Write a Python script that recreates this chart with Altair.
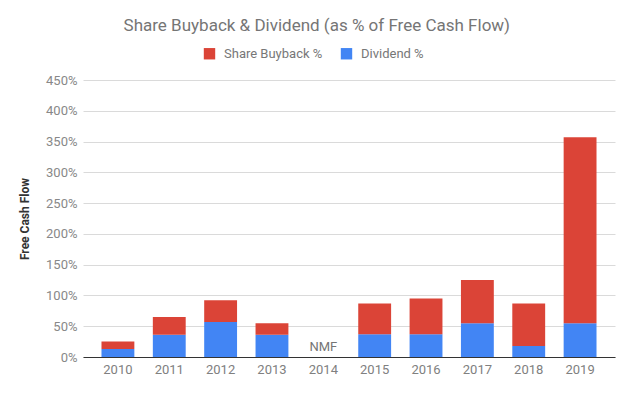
import altair as alt
import pandas as pd

years = ["2010", "2011", "2012", "2013", "2014", "2015", "2016", "2017", "2018", "2019"]
dividend_pct = [13, 36, 57, 36, None, 37, 37, 55, 18, 55]
buyback_pct = [12, 29, 35, 19, None, 50, 58, 70, 69, 302]
notes = ["", "", "", "", "NMF", "", "", "", "", ""]

series_names = ["Share Buyback %", "Dividend %"]
series_colors = ["#DB4437", "#4285F4"]
y_ticks = [0, 50, 100, 150, 200, 250, 300, 350, 400, 450]

rows = []
for y, d, b in zip(years, dividend_pct, buyback_pct):
    rows.append({"year": y, "series": "Dividend %", "value": d, "order": 0})
    rows.append({"year": y, "series": "Share Buyback %", "value": b, "order": 1})
df = pd.DataFrame(rows)
notes_df = pd.DataFrame({"year": years, "note": notes, "zero": [0] * len(years)})

y_scale = alt.Scale(domain=[0, 450], nice=False)
x_scale = alt.Scale(paddingInner=0.36, paddingOuter=0.36)

x_axis = alt.Axis(labelAngle=0, labelColor="#808080", labelFontSize=13, domainColor="#333333",
                  ticks=False, labelPadding=6, grid=False)
y_axis = alt.Axis(values=y_ticks, labelExpr="datum.value + '%'", labelColor="#888888",
                  labelFontSize=13, domain=False, ticks=False, gridColor="#DADADA",
                  labelPadding=6, titleFontWeight="bold", titleColor="#333333",
                  titleFontSize=12, titlePadding=14)

bars = alt.Chart(df).mark_bar().encode(
    x=alt.X("year:N", title=None, sort=years, scale=x_scale, axis=x_axis),
    y=alt.Y("value:Q", stack="zero", title="Free Cash Flow", scale=y_scale, axis=y_axis),
    color=alt.Color(
        "series:N",
        scale=alt.Scale(domain=series_names, range=series_colors),
        legend=alt.Legend(title=None, orient="none", direction="horizontal", legendX=120,
                          legendY=-33, symbolType="square", symbolSize=130, symbolStrokeWidth=0,
                          labelFontSize=13, labelColor="#777777", columnPadding=17,
                          labelOffset=8),
    ),
    order=alt.Order("order:Q", sort="ascending"),
)

nmf = alt.Chart(notes_df).mark_text(baseline="bottom", dy=-3, fontSize=13, color="#757575").encode(
    x=alt.X("year:N", title=None, sort=years, scale=x_scale, axis=x_axis),
    y=alt.Y("zero:Q", title="Free Cash Flow", scale=y_scale, axis=y_axis),
    text="note:N",
)

chart = (
    alt.layer(bars, nmf)
    .properties(
        width=532,
        height=277,
        title=alt.TitleParams("Share Buyback & Dividend (as % of Free Cash Flow)", fontSize=17,
                              color="#757575", fontWeight="normal", anchor="middle",
                              frame="bounds", offset=12),
        padding={"left": 10, "top": 9, "right": 5, "bottom": 5},
    )
    .configure(font="Roboto")
    .configure_view(stroke=None)
)

chart.save("out.html", embed_options={"renderer": "svg", "actions": False})
